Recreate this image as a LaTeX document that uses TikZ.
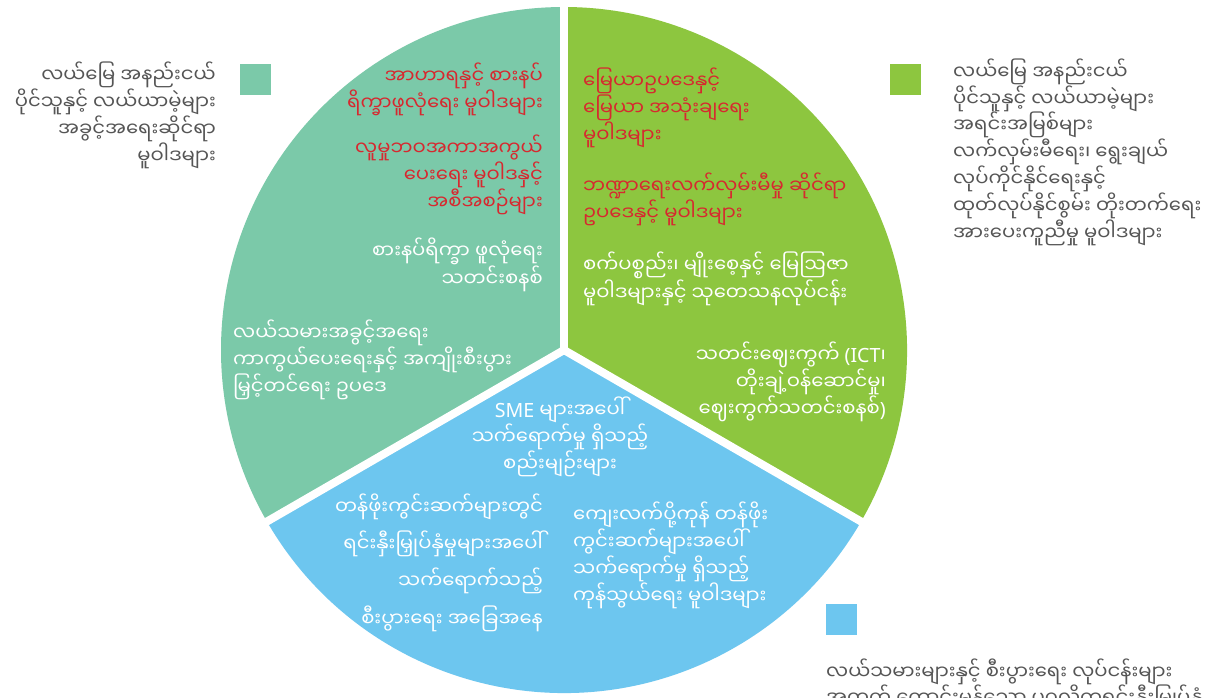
\documentclass[tikz,border=0pt]{standalone}
\usepackage{fontspec}
\newfontfamily\my[Script=Myanmar]{Noto Sans Myanmar UI}
\newfontfamily\lat{Noto Sans}
\definecolor{tealc}{HTML}{7BC9A9}
\definecolor{greenc}{HTML}{8DC63F}
\definecolor{bluec}{HTML}{6DC6EF}
\definecolor{redc}{HTML}{D7282F}
\definecolor{grayc}{HTML}{555555}
\tikzset{
  txt/.style={inner sep=0pt, font=\my\fontsize{19.6}{#1}\selectfont},
  txt/.default=24,
  redt/.style={txt=#1, text=redc},
  redt/.default=24,
  whitet/.style={txt=#1, text=white},
  whitet/.default=24,
  grayt/.style={txt=#1, text=grayc},
  grayt/.default=24,
  legend/.style={minimum size=31pt, inner sep=0pt, anchor=north west},
}
\begin{document}
\begin{tikzpicture}[x=1pt,y=-1pt]
\useasboundingbox (0,0) rectangle (1222,697);
\fill[white] (0,0) rectangle (1222,697);
% pie
\begin{scope}[shift={(564,350)}, x=1pt, y=1pt]
  \fill[tealc]  (0,0) -- (90:343) arc (90:210:343) -- cycle;
  \fill[greenc] (0,0) -- (-30:343) arc (-30:90:343) -- cycle;
  \fill[bluec]  (0,0) -- (210:343) arc (210:330:343) -- cycle;
  \draw[white, line width=8pt] (0,0) -- (90:350);
  \draw[white, line width=8pt] (0,0) -- (210:350);
  \draw[white, line width=8pt] (0,0) -- (330:350);
\end{scope}
% legend squares
\node[legend, fill=tealc]  (sqT) at (240,64) {};
\node[legend, fill=greenc] (sqG) at (890,64) {};
\node[legend, fill=bluec]  (sqB) at (826,604) {};
% legend texts (anchor base = baseline of the last line)
\node[grayt=24, anchor=base east, align=right] (legT) at (216,163)
  {လယ်မြေ အနည်းငယ်\\ပိုင်သူနှင့် လယ်ယာမဲ့များ\\အခွင့်အရေးဆိုင်ရာ\\မူဝါဒများ};
\node[grayt=26.8, anchor=base west, align=left] (legG) at (953,240)
  {လယ်မြေ အနည်းငယ်\\ပိုင်သူနှင့် လယ်ယာမဲ့များ\\အရင်းအမြစ်များ\\လက်လှမ်းမီရေး၊ ရွေးချယ်\\လုပ်ကိုင်နိုင်ရေးနှင့်\\ထုတ်လုပ်နိုင်စွမ်း တိုးတက်ရေး\\အားပေးကူညီမှု မူဝါဒများ};
\node[grayt=26, anchor=base west, align=left] (legB) at (826,705)
  {လယ်သမားများနှင့် စီးပွားရေး လုပ်ငန်းများ\\အတွက် ကောင်းမွန်သော ပုဂ္ဂလိကရင်းနှီးမြှုပ်နှံ};
% teal slice
\node[redt=23, anchor=base east, align=right] (t1) at (543,110)
  {အာဟာရနှင့် စားနပ်\\ရိက္ခာဖူလုံရေး မူဝါဒများ};
\node[redt=23, anchor=base east, align=right] (t2) at (543,209)
  {လူမှုဘဝအကာအကွယ်\\ပေးရေး မူဝါဒနှင့်\\အစီအစဉ်များ};
\node[whitet=23, anchor=base east, align=right] (t3) at (543,286)
  {စားနပ်ရိက္ခာ ဖူလုံရေး\\သတင်းစနစ်};
\node[whitet=24, anchor=base west, align=left] (t4) at (233,394)
  {လယ်သမားအခွင့်အရေး\\ကာကွယ်ပေးရေးနှင့် အကျိုးစီးပွား\\မြှင့်တင်ရေး ဥပဒေ};
% green slice
\node[redt=25, anchor=base west, align=left] (g1) at (583,142)
  {မြေယာဥပဒေနှင့်\\မြေယာ အသုံးချရေး\\မူဝါဒများ};
\node[redt=24, anchor=base west, align=left] (g2) at (583,220)
  {ဘဏ္ဍာရေးလက်လှမ်းမီမှု ဆိုင်ရာ\\ဥပဒေနှင့် မူဝါဒများ};
\node[whitet=24, anchor=base west, align=left] (g3) at (583,300)
  {စက်ပစ္စည်း၊ မျိုးစေ့နှင့် မြေဩဇာ\\မူဝါဒများနှင့် သုတေသနလုပ်ငန်း};
\node[whitet=25, anchor=base east, align=right] (g4) at (886,416)
  {သတင်းဈေးကွက် {\lat(ICT}၊\\တိုးချဲ့ဝန်ဆောင်မှု၊\\ဈေးကွက်သတင်းစနစ်{\lat)}};
% blue slice
\node[whitet=23.5, anchor=base, align=center] (b1) at (560,471)
  {{\lat SME} များအပေါ်\\သက်ရောက်မှု ရှိသည့်\\စည်းမျဉ်းများ};
\node[whitet=37.3, anchor=base east, align=right] (b2) at (543,626)
  {တန်ဖိုးကွင်းဆက်များတွင်\\ရင်းနှီးမြှုပ်နှံမှုများအပေါ်\\သက်ရောက်သည့်\\စီးပွားရေး အခြေအနေ};
\node[whitet=24, anchor=base west, align=left] (b3) at (573,603)
  {ကျေးလက်ပို့ကုန် တန်ဖိုး\\ကွင်းဆက်များအပေါ်\\သက်ရောက်မှု ရှိသည့်\\ကုန်သွယ်ရေး မူဝါဒများ};
\end{tikzpicture}
\end{document}
